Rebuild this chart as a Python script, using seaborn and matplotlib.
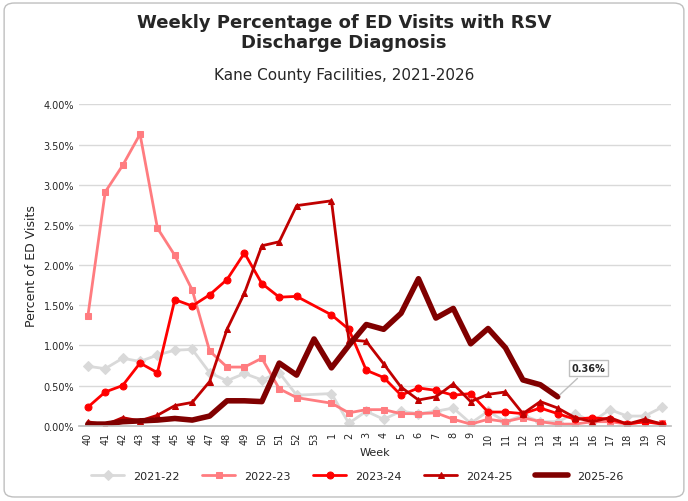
#!/usr/bin/python3

import numpy as np
import pandas as pd
import matplotlib.pyplot as plt
import seaborn as sns
from matplotlib.patches import FancyBboxPatch
from matplotlib.ticker import FuncFormatter


WEEKS = [str(w) for w in range(40, 54)] + [str(w) for w in range(1, 21)]
NA = np.nan

SEASONS = {
    "2021-22": [0.74, 0.71, 0.84, 0.80, 0.88, 0.94, 0.95, 0.66, 0.56, 0.65, 0.57, 0.66, 0.38, NA,
                0.40, 0.03, 0.18, 0.08, 0.18, 0.15, 0.18, 0.22, 0.03, 0.18, 0.05, 0.13, 0.05, 0.05,
                0.15, 0.05, 0.20, 0.12, 0.12, 0.23],
    "2022-23": [1.36, 2.91, 3.24, 3.63, 2.46, 2.12, 1.69, 0.93, 0.73, 0.73, 0.84, 0.46, 0.35, NA,
                0.28, 0.16, 0.20, 0.20, 0.15, 0.15, 0.16, 0.08, 0.02, 0.08, 0.05, 0.10, 0.05, 0.02,
                0.02, 0.05, 0.05, 0.02, 0.05, 0.03],
    "2023-24": [0.23, 0.42, 0.50, 0.78, 0.66, 1.57, 1.49, 1.63, 1.82, 2.15, 1.77, 1.60, 1.61, NA,
                1.38, 1.20, 0.69, 0.60, 0.38, 0.47, 0.44, 0.38, 0.40, 0.17, 0.17, 0.15, 0.22, 0.15,
                0.08, 0.10, 0.08, 0.02, 0.05, 0.02],
    "2024-25": [0.05, 0.01, 0.10, 0.06, 0.13, 0.25, 0.29, 0.55, 1.20, 1.65, 2.24, 2.29, 2.74, NA,
                2.80, 1.07, 1.05, 0.77, 0.48, 0.32, 0.36, 0.52, 0.30, 0.39, 0.42, 0.15, 0.30, 0.22,
                0.10, 0.05, 0.10, 0.02, 0.08, 0.02],
    "2025-26": [0.02, 0.02, 0.05, 0.06, 0.07, 0.09, 0.07, 0.12, 0.31, 0.31, 0.30, 0.78, 0.63, 1.08,
                0.72, 1.00, 1.26, 1.20, 1.40, 1.83, 1.34, 1.46, 1.02, 1.21, 0.97, 0.57, 0.51, 0.36]
                + [NA] * 6,
}

STYLES = {  # colour, marker, line width, marker size
    "2021-22": ("#D9D9D9", "D", 2, 5),
    "2022-23": ("#FF7C80", "s", 2, 5),
    "2023-24": ("#FF0000", "o", 2, 5),
    "2024-25": ("#C00000", "^", 2, 5),
    "2025-26": ("#800000", None, 4, 0),
}


def build_table():
    """
    long table: one row per season and week, empty weeks dropped
    """
    rows = []
    for season, values in SEASONS.items():
        for i, v in enumerate(values):
            if not np.isnan(v):
                rows.append({"pos": i, "season": season, "pct": v})
    return pd.DataFrame(rows)


def plot_results(df):
    sns.set_theme()
    sns.set_style("white")
    plt.rcParams['font.family'] = ['Verdana', 'DejaVu Sans']

    fig = plt.figure(figsize=(6.88, 5.02), dpi=100)
    ax = fig.add_axes([0.115, 0.15, 0.86, 0.64])
    for season, (color, marker, lw, ms) in STYLES.items():
        sub = df[df["season"] == season]
        sns.lineplot(data=sub, x="pos", y="pct", color=color, marker=marker, lw=lw,
                     markersize=ms, markeredgecolor=color, label=season, ax=ax)

    # label the latest point of the current season
    last = df[df["season"] == "2025-26"].iloc[-1]
    ax.annotate(f"{last.pct:.2f}%", xy=(last.pos, last.pct), xytext=(last.pos + 0.8, 0.68),
                fontsize=7, fontweight="bold",
                bbox=dict(boxstyle="square,pad=0.3", fc="white", ec="#BFBFBF"),
                arrowprops=dict(arrowstyle="-", color="#BFBFBF"))

    ax.set_xlim(-0.5, len(WEEKS) - 0.5)
    ax.set_ylim(0, 4)
    ax.set_xticks(range(len(WEEKS)))
    ax.set_xticklabels(WEEKS, rotation=90, fontsize=7)
    ax.set_yticks(np.arange(0, 4.01, 0.5))
    ax.yaxis.set_major_formatter(FuncFormatter(lambda v, _: f"{v:.2f}%"))
    ax.tick_params(axis="y", labelsize=7, length=0)
    ax.tick_params(axis="x", length=3, pad=1)
    ax.grid(axis="y", color="#D9D9D9")
    sns.despine(ax=ax, left=True)
    ax.spines["bottom"].set_color("#BFBFBF")
    ax.set_xlabel("Week", fontsize=8, labelpad=2)
    ax.set_ylabel("Percent of ED Visits", fontsize=9)

    fig.text(0.5, 0.905, "Weekly Percentage of ED Visits with RSV\nDischarge Diagnosis",
             ha="center", fontsize=13, fontweight="bold", linespacing=1.1)
    fig.text(0.5, 0.84, "Kane County Facilities, 2021-2026", ha="center", fontsize=11)
    ax.legend(loc="upper center", bbox_to_anchor=(0.47, -0.11), ncol=5, frameon=False,
              fontsize=8, handlelength=3)

    # rounded frame round the whole chart
    fig.patches.append(FancyBboxPatch((0.006, 0.008), 0.988, 0.984, transform=fig.transFigure,
                                      boxstyle="round,pad=0,rounding_size=0.015",
                                      fc="none", ec="#BFBFBF", lw=1))

    fig.savefig("out.png", dpi=100)


def main():
    df = build_table()
    plot_results(df)


if __name__ == "__main__":
    main()
